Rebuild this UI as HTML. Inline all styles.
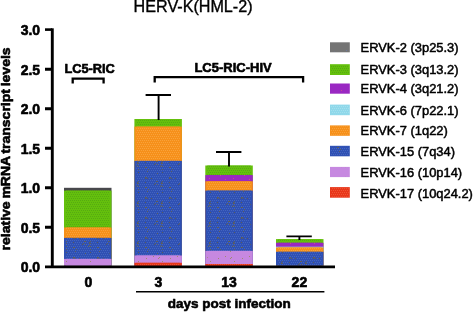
<!DOCTYPE html>
<html><head><meta charset="utf-8"><title>HERV-K(HML-2)</title>
<style>
html,body{margin:0;padding:0;background:#fff;}
svg{display:block;}
text{font-family:"Liberation Sans",Arial,Helvetica,sans-serif;fill:#000;}
.b{font-weight:bold;stroke:#000;stroke-width:0.6px;stroke-linejoin:round;}
.lg{font-size:12.9px;stroke:#000;stroke-width:0.5px;stroke-linejoin:round;}
</style></head><body>
<svg width="473" height="312" viewBox="0 0 473 312">
<rect width="473" height="312" fill="#fff"/>
<defs><pattern id="p-green" width="24" height="20" patternUnits="userSpaceOnUse"><rect width="24" height="20" fill="#64c00c"/><path d="M0 0h1v1h-1zM2 0h1v1h-1zM4 0h1v1h-1zM6 0h1v1h-1zM8 0h1v1h-1zM10 0h1v1h-1zM12 0h1v1h-1zM14 0h1v1h-1zM16 0h1v1h-1zM18 0h1v1h-1zM20 0h1v1h-1zM22 0h1v1h-1zM1 2h1v1h-1zM3 2h1v1h-1zM5 2h1v1h-1zM7 2h1v1h-1zM9 2h1v1h-1zM11 2h1v1h-1zM13 2h1v1h-1zM15 2h1v1h-1zM17 2h1v1h-1zM19 2h1v1h-1zM21 2h1v1h-1zM23 2h1v1h-1zM0 4h1v1h-1zM2 4h1v1h-1zM4 4h1v1h-1zM6 4h1v1h-1zM8 4h1v1h-1zM10 4h1v1h-1zM12 4h1v1h-1zM14 4h1v1h-1zM16 4h1v1h-1zM18 4h1v1h-1zM20 4h1v1h-1zM22 4h1v1h-1zM1 6h1v1h-1zM3 6h1v1h-1zM5 6h1v1h-1zM7 6h1v1h-1zM9 6h1v1h-1zM11 6h1v1h-1zM13 6h1v1h-1zM15 6h1v1h-1zM17 6h1v1h-1zM19 6h1v1h-1zM21 6h1v1h-1zM23 6h1v1h-1zM0 8h1v1h-1zM2 8h1v1h-1zM4 8h1v1h-1zM6 8h1v1h-1zM8 8h1v1h-1zM10 8h1v1h-1zM12 8h1v1h-1zM14 8h1v1h-1zM16 8h1v1h-1zM18 8h1v1h-1zM20 8h1v1h-1zM22 8h1v1h-1zM1 10h1v1h-1zM3 10h1v1h-1zM5 10h1v1h-1zM7 10h1v1h-1zM9 10h1v1h-1zM11 10h1v1h-1zM13 10h1v1h-1zM15 10h1v1h-1zM17 10h1v1h-1zM19 10h1v1h-1zM21 10h1v1h-1zM23 10h1v1h-1zM0 12h1v1h-1zM2 12h1v1h-1zM4 12h1v1h-1zM6 12h1v1h-1zM8 12h1v1h-1zM10 12h1v1h-1zM12 12h1v1h-1zM14 12h1v1h-1zM16 12h1v1h-1zM18 12h1v1h-1zM20 12h1v1h-1zM22 12h1v1h-1zM1 14h1v1h-1zM3 14h1v1h-1zM5 14h1v1h-1zM7 14h1v1h-1zM9 14h1v1h-1zM11 14h1v1h-1zM13 14h1v1h-1zM15 14h1v1h-1zM17 14h1v1h-1zM19 14h1v1h-1zM21 14h1v1h-1zM23 14h1v1h-1zM0 16h1v1h-1zM2 16h1v1h-1zM4 16h1v1h-1zM6 16h1v1h-1zM8 16h1v1h-1zM10 16h1v1h-1zM12 16h1v1h-1zM14 16h1v1h-1zM16 16h1v1h-1zM18 16h1v1h-1zM20 16h1v1h-1zM22 16h1v1h-1zM1 18h1v1h-1zM3 18h1v1h-1zM5 18h1v1h-1zM7 18h1v1h-1zM9 18h1v1h-1zM11 18h1v1h-1zM13 18h1v1h-1zM15 18h1v1h-1zM17 18h1v1h-1zM19 18h1v1h-1zM21 18h1v1h-1zM23 18h1v1h-1z" fill="#56aa12"/></pattern><pattern id="p-orange" width="24" height="20" patternUnits="userSpaceOnUse"><rect width="24" height="20" fill="#f6901a"/><path d="M0 0h1v1h-1zM2 0h1v1h-1zM4 0h1v1h-1zM6 0h1v1h-1zM8 0h1v1h-1zM10 0h1v1h-1zM12 0h1v1h-1zM14 0h1v1h-1zM16 0h1v1h-1zM18 0h1v1h-1zM20 0h1v1h-1zM22 0h1v1h-1zM1 2h1v1h-1zM3 2h1v1h-1zM5 2h1v1h-1zM7 2h1v1h-1zM9 2h1v1h-1zM11 2h1v1h-1zM13 2h1v1h-1zM15 2h1v1h-1zM17 2h1v1h-1zM19 2h1v1h-1zM21 2h1v1h-1zM23 2h1v1h-1zM0 4h1v1h-1zM2 4h1v1h-1zM4 4h1v1h-1zM6 4h1v1h-1zM8 4h1v1h-1zM10 4h1v1h-1zM12 4h1v1h-1zM14 4h1v1h-1zM16 4h1v1h-1zM18 4h1v1h-1zM20 4h1v1h-1zM22 4h1v1h-1zM1 6h1v1h-1zM3 6h1v1h-1zM5 6h1v1h-1zM7 6h1v1h-1zM9 6h1v1h-1zM11 6h1v1h-1zM13 6h1v1h-1zM15 6h1v1h-1zM17 6h1v1h-1zM19 6h1v1h-1zM21 6h1v1h-1zM23 6h1v1h-1zM0 8h1v1h-1zM2 8h1v1h-1zM4 8h1v1h-1zM6 8h1v1h-1zM8 8h1v1h-1zM10 8h1v1h-1zM12 8h1v1h-1zM14 8h1v1h-1zM16 8h1v1h-1zM18 8h1v1h-1zM20 8h1v1h-1zM22 8h1v1h-1zM1 10h1v1h-1zM3 10h1v1h-1zM5 10h1v1h-1zM7 10h1v1h-1zM9 10h1v1h-1zM11 10h1v1h-1zM13 10h1v1h-1zM15 10h1v1h-1zM17 10h1v1h-1zM19 10h1v1h-1zM21 10h1v1h-1zM23 10h1v1h-1zM0 12h1v1h-1zM2 12h1v1h-1zM4 12h1v1h-1zM6 12h1v1h-1zM8 12h1v1h-1zM10 12h1v1h-1zM12 12h1v1h-1zM14 12h1v1h-1zM16 12h1v1h-1zM18 12h1v1h-1zM20 12h1v1h-1zM22 12h1v1h-1zM1 14h1v1h-1zM3 14h1v1h-1zM5 14h1v1h-1zM7 14h1v1h-1zM9 14h1v1h-1zM11 14h1v1h-1zM13 14h1v1h-1zM15 14h1v1h-1zM17 14h1v1h-1zM19 14h1v1h-1zM21 14h1v1h-1zM23 14h1v1h-1zM0 16h1v1h-1zM2 16h1v1h-1zM4 16h1v1h-1zM6 16h1v1h-1zM8 16h1v1h-1zM10 16h1v1h-1zM12 16h1v1h-1zM14 16h1v1h-1zM16 16h1v1h-1zM18 16h1v1h-1zM20 16h1v1h-1zM22 16h1v1h-1zM1 18h1v1h-1zM3 18h1v1h-1zM5 18h1v1h-1zM7 18h1v1h-1zM9 18h1v1h-1zM11 18h1v1h-1zM13 18h1v1h-1zM15 18h1v1h-1zM17 18h1v1h-1zM19 18h1v1h-1zM21 18h1v1h-1zM23 18h1v1h-1z" fill="#f9a23a"/></pattern><pattern id="p-blue" width="24" height="20" patternUnits="userSpaceOnUse"><rect width="24" height="20" fill="#2f50b3"/><path d="M0 0h1v1h-1zM2 0h1v1h-1zM4 0h1v1h-1zM6 0h1v1h-1zM8 0h1v1h-1zM10 0h1v1h-1zM12 0h1v1h-1zM14 0h1v1h-1zM16 0h1v1h-1zM18 0h1v1h-1zM20 0h1v1h-1zM22 0h1v1h-1zM1 2h1v1h-1zM3 2h1v1h-1zM5 2h1v1h-1zM7 2h1v1h-1zM9 2h1v1h-1zM11 2h1v1h-1zM13 2h1v1h-1zM15 2h1v1h-1zM17 2h1v1h-1zM19 2h1v1h-1zM21 2h1v1h-1zM23 2h1v1h-1zM0 4h1v1h-1zM2 4h1v1h-1zM4 4h1v1h-1zM6 4h1v1h-1zM8 4h1v1h-1zM10 4h1v1h-1zM12 4h1v1h-1zM14 4h1v1h-1zM16 4h1v1h-1zM18 4h1v1h-1zM20 4h1v1h-1zM22 4h1v1h-1zM1 6h1v1h-1zM3 6h1v1h-1zM5 6h1v1h-1zM7 6h1v1h-1zM9 6h1v1h-1zM11 6h1v1h-1zM13 6h1v1h-1zM15 6h1v1h-1zM17 6h1v1h-1zM19 6h1v1h-1zM21 6h1v1h-1zM23 6h1v1h-1zM0 8h1v1h-1zM2 8h1v1h-1zM4 8h1v1h-1zM6 8h1v1h-1zM8 8h1v1h-1zM10 8h1v1h-1zM12 8h1v1h-1zM14 8h1v1h-1zM16 8h1v1h-1zM18 8h1v1h-1zM20 8h1v1h-1zM22 8h1v1h-1zM1 10h1v1h-1zM3 10h1v1h-1zM5 10h1v1h-1zM7 10h1v1h-1zM9 10h1v1h-1zM11 10h1v1h-1zM13 10h1v1h-1zM15 10h1v1h-1zM17 10h1v1h-1zM19 10h1v1h-1zM21 10h1v1h-1zM23 10h1v1h-1zM0 12h1v1h-1zM2 12h1v1h-1zM4 12h1v1h-1zM6 12h1v1h-1zM8 12h1v1h-1zM10 12h1v1h-1zM12 12h1v1h-1zM14 12h1v1h-1zM16 12h1v1h-1zM18 12h1v1h-1zM20 12h1v1h-1zM22 12h1v1h-1zM1 14h1v1h-1zM3 14h1v1h-1zM5 14h1v1h-1zM7 14h1v1h-1zM9 14h1v1h-1zM11 14h1v1h-1zM13 14h1v1h-1zM15 14h1v1h-1zM17 14h1v1h-1zM19 14h1v1h-1zM21 14h1v1h-1zM23 14h1v1h-1zM0 16h1v1h-1zM2 16h1v1h-1zM4 16h1v1h-1zM6 16h1v1h-1zM8 16h1v1h-1zM10 16h1v1h-1zM12 16h1v1h-1zM14 16h1v1h-1zM16 16h1v1h-1zM18 16h1v1h-1zM20 16h1v1h-1zM22 16h1v1h-1zM1 18h1v1h-1zM3 18h1v1h-1zM5 18h1v1h-1zM7 18h1v1h-1zM9 18h1v1h-1zM11 18h1v1h-1zM13 18h1v1h-1zM15 18h1v1h-1zM17 18h1v1h-1zM19 18h1v1h-1zM21 18h1v1h-1zM23 18h1v1h-1z" fill="#4465c0"/><path d="M10 4h1v1h-1zM12 1h1v1h-1zM2 17h1v1h-1zM3 11h1v1h-1zM18 1h1v1h-1zM16 6h1v1h-1zM1 2h1v1h-1zM13 13h1v1h-1zM2 7h1v1h-1zM2 17h1v1h-1zM13 1h1v1h-1zM18 3h1v1h-1zM7 18h1v1h-1zM1 18h1v1h-1zM18 12h1v1h-1zM1 7h1v1h-1zM1 17h1v1h-1zM4 9h1v1h-1zM13 4h1v1h-1zM17 3h1v1h-1zM18 9h1v1h-1zM17 5h1v1h-1zM3 18h1v1h-1zM18 6h1v1h-1zM11 3h1v1h-1zM17 2h1v1h-1z" fill="#5e5e5a"/></pattern><pattern id="p-lilac" width="24" height="20" patternUnits="userSpaceOnUse"><rect width="24" height="20" fill="#c688e0"/><path d="M18 1h1v1h-1zM19 6h1v1h-1zM15 17h1v1h-1zM13 10h1v1h-1zM14 18h1v1h-1zM14 11h1v1h-1zM9 7h1v1h-1zM5 7h1v1h-1zM2 18h1v1h-1zM9 16h1v1h-1z" fill="#a08a70"/></pattern><pattern id="p-red" width="24" height="20" patternUnits="userSpaceOnUse"><rect width="24" height="20" fill="#e8361a"/><path d="M0 0h1v1h-1zM2 0h1v1h-1zM4 0h1v1h-1zM6 0h1v1h-1zM8 0h1v1h-1zM10 0h1v1h-1zM12 0h1v1h-1zM14 0h1v1h-1zM16 0h1v1h-1zM18 0h1v1h-1zM20 0h1v1h-1zM22 0h1v1h-1zM1 2h1v1h-1zM3 2h1v1h-1zM5 2h1v1h-1zM7 2h1v1h-1zM9 2h1v1h-1zM11 2h1v1h-1zM13 2h1v1h-1zM15 2h1v1h-1zM17 2h1v1h-1zM19 2h1v1h-1zM21 2h1v1h-1zM23 2h1v1h-1zM0 4h1v1h-1zM2 4h1v1h-1zM4 4h1v1h-1zM6 4h1v1h-1zM8 4h1v1h-1zM10 4h1v1h-1zM12 4h1v1h-1zM14 4h1v1h-1zM16 4h1v1h-1zM18 4h1v1h-1zM20 4h1v1h-1zM22 4h1v1h-1zM1 6h1v1h-1zM3 6h1v1h-1zM5 6h1v1h-1zM7 6h1v1h-1zM9 6h1v1h-1zM11 6h1v1h-1zM13 6h1v1h-1zM15 6h1v1h-1zM17 6h1v1h-1zM19 6h1v1h-1zM21 6h1v1h-1zM23 6h1v1h-1zM0 8h1v1h-1zM2 8h1v1h-1zM4 8h1v1h-1zM6 8h1v1h-1zM8 8h1v1h-1zM10 8h1v1h-1zM12 8h1v1h-1zM14 8h1v1h-1zM16 8h1v1h-1zM18 8h1v1h-1zM20 8h1v1h-1zM22 8h1v1h-1zM1 10h1v1h-1zM3 10h1v1h-1zM5 10h1v1h-1zM7 10h1v1h-1zM9 10h1v1h-1zM11 10h1v1h-1zM13 10h1v1h-1zM15 10h1v1h-1zM17 10h1v1h-1zM19 10h1v1h-1zM21 10h1v1h-1zM23 10h1v1h-1zM0 12h1v1h-1zM2 12h1v1h-1zM4 12h1v1h-1zM6 12h1v1h-1zM8 12h1v1h-1zM10 12h1v1h-1zM12 12h1v1h-1zM14 12h1v1h-1zM16 12h1v1h-1zM18 12h1v1h-1zM20 12h1v1h-1zM22 12h1v1h-1zM1 14h1v1h-1zM3 14h1v1h-1zM5 14h1v1h-1zM7 14h1v1h-1zM9 14h1v1h-1zM11 14h1v1h-1zM13 14h1v1h-1zM15 14h1v1h-1zM17 14h1v1h-1zM19 14h1v1h-1zM21 14h1v1h-1zM23 14h1v1h-1zM0 16h1v1h-1zM2 16h1v1h-1zM4 16h1v1h-1zM6 16h1v1h-1zM8 16h1v1h-1zM10 16h1v1h-1zM12 16h1v1h-1zM14 16h1v1h-1zM16 16h1v1h-1zM18 16h1v1h-1zM20 16h1v1h-1zM22 16h1v1h-1zM1 18h1v1h-1zM3 18h1v1h-1zM5 18h1v1h-1zM7 18h1v1h-1zM9 18h1v1h-1zM11 18h1v1h-1zM13 18h1v1h-1zM15 18h1v1h-1zM17 18h1v1h-1zM19 18h1v1h-1zM21 18h1v1h-1zM23 18h1v1h-1z" fill="#ee5434"/></pattern><pattern id="p-purple" width="24" height="20" patternUnits="userSpaceOnUse"><rect width="24" height="20" fill="#9a28c2"/><path d="M15 10h1v1h-1zM23 14h1v1h-1zM9 19h1v1h-1zM2 3h1v1h-1zM16 13h1v1h-1zM5 10h1v1h-1zM4 15h1v1h-1zM13 1h1v1h-1zM21 2h1v1h-1zM17 18h1v1h-1z" fill="#c84a90"/></pattern><pattern id="p-lblue" width="24" height="20" patternUnits="userSpaceOnUse"><rect width="24" height="20" fill="#8fd8ea"/><path d="M0 0h1v1h-1zM2 0h1v1h-1zM4 0h1v1h-1zM6 0h1v1h-1zM8 0h1v1h-1zM10 0h1v1h-1zM12 0h1v1h-1zM14 0h1v1h-1zM16 0h1v1h-1zM18 0h1v1h-1zM20 0h1v1h-1zM22 0h1v1h-1zM1 2h1v1h-1zM3 2h1v1h-1zM5 2h1v1h-1zM7 2h1v1h-1zM9 2h1v1h-1zM11 2h1v1h-1zM13 2h1v1h-1zM15 2h1v1h-1zM17 2h1v1h-1zM19 2h1v1h-1zM21 2h1v1h-1zM23 2h1v1h-1zM0 4h1v1h-1zM2 4h1v1h-1zM4 4h1v1h-1zM6 4h1v1h-1zM8 4h1v1h-1zM10 4h1v1h-1zM12 4h1v1h-1zM14 4h1v1h-1zM16 4h1v1h-1zM18 4h1v1h-1zM20 4h1v1h-1zM22 4h1v1h-1zM1 6h1v1h-1zM3 6h1v1h-1zM5 6h1v1h-1zM7 6h1v1h-1zM9 6h1v1h-1zM11 6h1v1h-1zM13 6h1v1h-1zM15 6h1v1h-1zM17 6h1v1h-1zM19 6h1v1h-1zM21 6h1v1h-1zM23 6h1v1h-1zM0 8h1v1h-1zM2 8h1v1h-1zM4 8h1v1h-1zM6 8h1v1h-1zM8 8h1v1h-1zM10 8h1v1h-1zM12 8h1v1h-1zM14 8h1v1h-1zM16 8h1v1h-1zM18 8h1v1h-1zM20 8h1v1h-1zM22 8h1v1h-1zM1 10h1v1h-1zM3 10h1v1h-1zM5 10h1v1h-1zM7 10h1v1h-1zM9 10h1v1h-1zM11 10h1v1h-1zM13 10h1v1h-1zM15 10h1v1h-1zM17 10h1v1h-1zM19 10h1v1h-1zM21 10h1v1h-1zM23 10h1v1h-1zM0 12h1v1h-1zM2 12h1v1h-1zM4 12h1v1h-1zM6 12h1v1h-1zM8 12h1v1h-1zM10 12h1v1h-1zM12 12h1v1h-1zM14 12h1v1h-1zM16 12h1v1h-1zM18 12h1v1h-1zM20 12h1v1h-1zM22 12h1v1h-1zM1 14h1v1h-1zM3 14h1v1h-1zM5 14h1v1h-1zM7 14h1v1h-1zM9 14h1v1h-1zM11 14h1v1h-1zM13 14h1v1h-1zM15 14h1v1h-1zM17 14h1v1h-1zM19 14h1v1h-1zM21 14h1v1h-1zM23 14h1v1h-1zM0 16h1v1h-1zM2 16h1v1h-1zM4 16h1v1h-1zM6 16h1v1h-1zM8 16h1v1h-1zM10 16h1v1h-1zM12 16h1v1h-1zM14 16h1v1h-1zM16 16h1v1h-1zM18 16h1v1h-1zM20 16h1v1h-1zM22 16h1v1h-1zM1 18h1v1h-1zM3 18h1v1h-1zM5 18h1v1h-1zM7 18h1v1h-1zM9 18h1v1h-1zM11 18h1v1h-1zM13 18h1v1h-1zM15 18h1v1h-1zM17 18h1v1h-1zM19 18h1v1h-1zM21 18h1v1h-1zM23 18h1v1h-1z" fill="#a4e0ee"/></pattern><pattern id="p-gray" width="24" height="20" patternUnits="userSpaceOnUse"><rect width="24" height="20" fill="#747474"/><path d="M10 10h1v1h-1zM22 11h1v1h-1zM19 15h1v1h-1zM18 14h1v1h-1z" fill="#6a78a0"/></pattern></defs>
<text x="133.6" y="11.8" font-size="16.15" stroke="#000" stroke-width="0.35">HERV-K(HML-2)</text>
<rect x="64.0" y="187.8" width="47.5" height="77.80" fill="#48484c"/>
<rect x="64.0" y="190.6" width="47.5" height="75.00" fill="#64c00c"/>
<rect x="66.0" y="190.6" width="43.5" height="36.90" fill="url(#p-green)"/>
<rect x="64.0" y="227.5" width="47.5" height="38.10" fill="#f6901a"/>
<rect x="66.0" y="227.5" width="43.5" height="10.40" fill="url(#p-orange)"/>
<rect x="64.0" y="237.9" width="47.5" height="27.70" fill="#2f50b3"/>
<rect x="66.0" y="237.9" width="43.5" height="21.00" fill="url(#p-blue)"/>
<rect x="64.0" y="258.9" width="47.5" height="6.70" fill="#c688e0"/>
<rect x="66.0" y="258.9" width="43.5" height="6.70" fill="url(#p-lilac)"/>
<rect x="134.4" y="119.0" width="47.5" height="146.80" fill="#64c00c"/>
<rect x="136.4" y="119.0" width="43.5" height="7.60" fill="url(#p-green)"/>
<rect x="134.4" y="126.6" width="47.5" height="139.20" fill="#f6901a"/>
<rect x="136.4" y="126.6" width="43.5" height="34.30" fill="url(#p-orange)"/>
<rect x="134.4" y="160.9" width="47.5" height="104.90" fill="#2f50b3"/>
<rect x="136.4" y="160.9" width="43.5" height="94.60" fill="url(#p-blue)"/>
<rect x="134.4" y="255.5" width="47.5" height="10.30" fill="#c688e0"/>
<rect x="136.4" y="255.5" width="43.5" height="7.30" fill="url(#p-lilac)"/>
<rect x="134.4" y="262.8" width="47.5" height="3.00" fill="#e8361a"/>
<rect x="136.4" y="262.8" width="43.5" height="3.00" fill="url(#p-red)"/>
<rect x="205.3" y="165.5" width="47.5" height="100.30" fill="#64c00c"/>
<rect x="207.3" y="165.5" width="43.5" height="9.60" fill="url(#p-green)"/>
<rect x="205.3" y="175.1" width="47.5" height="90.70" fill="#9a28c2"/>
<rect x="207.3" y="175.1" width="43.5" height="6.20" fill="url(#p-purple)"/>
<rect x="205.3" y="181.3" width="47.5" height="84.50" fill="#f6901a"/>
<rect x="207.3" y="181.3" width="43.5" height="9.30" fill="url(#p-orange)"/>
<rect x="205.3" y="190.6" width="47.5" height="75.20" fill="#2f50b3"/>
<rect x="207.3" y="190.6" width="43.5" height="60.30" fill="url(#p-blue)"/>
<rect x="205.3" y="250.9" width="47.5" height="14.90" fill="#c688e0"/>
<rect x="207.3" y="250.9" width="43.5" height="13.10" fill="url(#p-lilac)"/>
<rect x="205.3" y="264.0" width="47.5" height="1.80" fill="#e8361a"/>
<rect x="207.3" y="264.0" width="43.5" height="1.80" fill="url(#p-red)"/>
<rect x="276.0" y="239.1" width="47.5" height="26.50" fill="#64c00c"/>
<rect x="278.0" y="239.1" width="43.5" height="3.70" fill="url(#p-green)"/>
<rect x="276.0" y="242.8" width="47.5" height="22.80" fill="#9a28c2"/>
<rect x="278.0" y="242.8" width="43.5" height="3.90" fill="url(#p-purple)"/>
<rect x="276.0" y="246.7" width="47.5" height="18.90" fill="#8fd8ea"/>
<rect x="276.0" y="247.5" width="47.5" height="18.10" fill="#f6901a"/>
<rect x="278.0" y="247.5" width="43.5" height="4.30" fill="url(#p-orange)"/>
<rect x="276.0" y="251.8" width="47.5" height="13.80" fill="#2f50b3"/>
<rect x="278.0" y="251.8" width="43.5" height="13.80" fill="url(#p-blue)"/>
<path d="M145.6 95.0H171.0M158.6 95.0V120.0" stroke="#000" stroke-width="1.9" fill="none"/>
<path d="M216.0 152.0H241.4M229.0 152.0V166.5" stroke="#000" stroke-width="1.9" fill="none"/>
<path d="M286.4 236.4H311.8M299.4 236.4V240.0" stroke="#000" stroke-width="1.9" fill="none"/>
<path d="M52.3 28.3V268" stroke="#000" stroke-width="2.9" fill="none"/>
<path d="M45 266.9H335" stroke="#000" stroke-width="2.8" fill="none"/>
<path d="M45 69.2H52M45 108.7H52M45 148.2H52M45 187.7H52M45 227.2H52" stroke="#000" stroke-width="3.1" fill="none"/>
<path d="M45 29.6H52" stroke="#000" stroke-width="2.6" fill="none"/>
<text class="b" x="40.1" y="35.1" font-size="14" text-anchor="end">3.0</text>
<text class="b" x="40.1" y="74.7" font-size="14" text-anchor="end">2.5</text>
<text class="b" x="40.1" y="114.2" font-size="14" text-anchor="end">2.0</text>
<text class="b" x="40.1" y="153.7" font-size="14" text-anchor="end">1.5</text>
<text class="b" x="40.1" y="193.2" font-size="14" text-anchor="end">1.0</text>
<text class="b" x="40.1" y="232.7" font-size="14" text-anchor="end">0.5</text>
<text class="b" x="40.1" y="272.2" font-size="14" text-anchor="end">0.0</text>
<path d="M72.7 83.6V78.6H103.6V83.6" stroke="#000" stroke-width="2.3" fill="none"/>
<path d="M154.7 82.6V77.2H303.1V82.6" stroke="#000" stroke-width="2.3" fill="none"/>
<text class="b" x="64.4" y="72.8" font-size="12.8">LC5-RIC</text>
<text class="b" x="194.4" y="72.0" font-size="13">LC5-RIC-HIV</text>
<text class="b" x="88.3" y="286.8" font-size="14" text-anchor="middle">0</text>
<text class="b" x="158.4" y="286.8" font-size="14" text-anchor="middle">3</text>
<text class="b" x="229.1" y="286.8" font-size="14" text-anchor="middle">13</text>
<text class="b" x="299.4" y="286.8" font-size="14" text-anchor="middle">22</text>
<path d="M136 291.8H324.4" stroke="#000" stroke-width="1.6" fill="none"/>
<text class="b" x="167.8" y="308.1" font-size="13.5">days post infection</text>
<text class="b" transform="translate(10.3 148.9) rotate(-90) scale(1.12 1)" font-size="12.5" word-spacing="-1" text-anchor="middle">relative mRNA transcript levels</text>
<rect x="330" y="42.3" width="19.8" height="10.0" fill="#747474"/>
<rect x="331" y="43.3" width="17.8" height="8.0" fill="url(#p-gray)"/>
<text class="lg" x="360.6" y="52.3">ERVK-2 (3p25.3)</text>
<rect x="330" y="64.2" width="19.8" height="10.8" fill="#64c00c"/>
<rect x="331" y="65.2" width="17.8" height="8.8" fill="url(#p-green)"/>
<text class="lg" x="360.6" y="74.0">ERVK-3 (3q13.2)</text>
<rect x="330" y="83.5" width="19.8" height="10.2" fill="#9a28c2"/>
<rect x="331" y="84.5" width="17.8" height="8.2" fill="url(#p-purple)"/>
<text class="lg" x="360.6" y="93.0">ERVK-4 (3q21.2)</text>
<rect x="330" y="104.6" width="19.8" height="10.6" fill="#8fd8ea"/>
<rect x="331" y="105.6" width="17.8" height="8.6" fill="url(#p-lblue)"/>
<text class="lg" x="360.6" y="115.2">ERVK-6 (7p22.1)</text>
<rect x="330" y="125.4" width="19.8" height="10.4" fill="#f6901a"/>
<rect x="331" y="126.4" width="17.8" height="8.4" fill="url(#p-orange)"/>
<text class="lg" x="360.6" y="135.4">ERVK-7 (1q22)</text>
<rect x="330" y="145.8" width="19.8" height="10.5" fill="#2f50b3"/>
<rect x="331" y="146.8" width="17.8" height="8.5" fill="url(#p-blue)"/>
<text class="lg" x="360.6" y="155.8">ERVK-15 (7q34)</text>
<rect x="330" y="166.9" width="19.8" height="10.2" fill="#c688e0"/>
<rect x="331" y="167.9" width="17.8" height="8.2" fill="url(#p-lilac)"/>
<text class="lg" x="360.6" y="176.9">ERVK-16 (10p14)</text>
<rect x="330" y="187.1" width="19.8" height="10.6" fill="#e8361a"/>
<rect x="331" y="188.1" width="17.8" height="8.6" fill="url(#p-red)"/>
<text class="lg" x="360.6" y="197.7">ERVK-17 (10q24.2)</text>
</svg>
</body></html>
